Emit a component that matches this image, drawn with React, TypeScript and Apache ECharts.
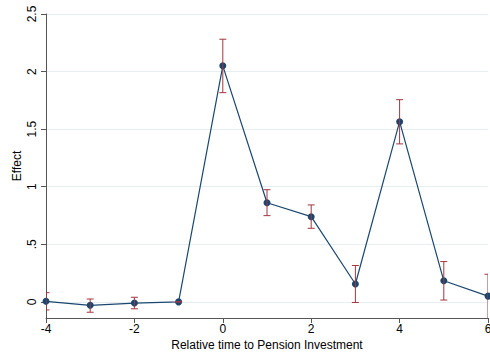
import React, { useEffect, useRef } from "react";
import * as echarts from "echarts";

// Event-study estimates by period relative to the pension investment
const periods = [-4, -3, -2, -1, 0, 1, 2, 3, 4, 5, 6];
const effect = [0.005, -0.03, -0.01, 0.0, 2.05, 0.861, 0.74, 0.155, 1.565, 0.183, 0.05];
const ciLower = [-0.07, -0.09, -0.06, -0.002, 1.817, 0.749, 0.639, -0.005, 1.372, 0.016, -0.16];
const ciUpper = [0.08, 0.025, 0.04, 0.002, 2.281, 0.974, 0.842, 0.316, 1.756, 0.35, 0.24];

const yTicks = [0, 0.5, 1, 1.5, 2, 2.5];
const yTickLabels = ["0", ".5", "1", "1.5", "2", "2.5"];

const NAVY = "#1a476f";
const MAROON = "#a3373f";
const FONT = "Liberation Sans";

export default function App() {
  const ref = useRef<HTMLDivElement>(null);

  useEffect(() => {
    if (!ref.current) return;
    const chart = echarts.init(ref.current, null, { renderer: "svg" });

    const pointData = periods.map((p, i) => [p, effect[i]]);
    const ciData = periods.map((p, i) => [p, ciLower[i], ciUpper[i]]);

    chart.setOption({
      animation: false,
      backgroundColor: "#ffffff",
      textStyle: { fontFamily: FONT },
      grid: { left: 46, right: 2, top: 14, bottom: 38, outerBoundsMode: "none", containLabel: false },
      xAxis: {
        type: "value",
        min: -4,
        max: 6,
        interval: 2,
        name: "Relative time to Pension Investment",
        nameLocation: "middle",
        nameGap: 21,
        nameMoveOverlap: false,
        nameTextStyle: { fontFamily: FONT, fontSize: 12, color: "#000" },
        axisLine: { onZero: false, lineStyle: { color: "#555", width: 1 } },
        axisTick: { show: true, length: 5, lineStyle: { color: "#555" } },
        axisLabel: { fontFamily: FONT, fontSize: 12, color: "#000", margin: 5, hideOverlap: false },
        splitLine: { show: false },
      },
      yAxis: {
        type: "value",
        min: -0.14,
        max: 2.5,
        name: "Effect",
        nameLocation: "middle",
        nameGap: 23,
        nameMoveOverlap: false,
        nameTextStyle: { fontFamily: FONT, fontSize: 12, color: "#000" },
        axisLine: { show: true, onZero: false, lineStyle: { color: "#555", width: 1 } },
        axisTick: {
          show: true,
          length: 5,
          lineStyle: { color: "#555" },
          customValues: yTicks,
        },
        axisLabel: {
          fontFamily: FONT,
          fontSize: 12,
          color: "#000",
          rotate: 90,
          margin: 8,
          customValues: yTicks,
          formatter: (v: number) => {
            const idx = yTicks.findIndex((t) => Math.abs(t - v) < 1e-6);
            return idx >= 0 ? yTickLabels[idx] : "";
          },
        },
        splitLine: { show: true, lineStyle: { color: "#e6eef0", width: 1 } },
      },
      series: [
        {
          type: "line",
          data: pointData,
          symbol: "circle",
          symbolSize: 7,
          lineStyle: { color: NAVY, width: 1.2 },
          itemStyle: { color: NAVY },
          z: 2,
        },
        {
          type: "custom",
          data: ciData,
          clip: true,
          z: 3,
          renderItem: (params: any, api: any) => {
            const x = api.value(0);
            const lo = api.coord([x, api.value(1)]);
            const hi = api.coord([x, api.value(2)]);
            const half = 3.5;
            const style = { stroke: MAROON, lineWidth: 1 };
            return {
              type: "group",
              children: [
                { type: "line", shape: { x1: lo[0], y1: lo[1], x2: hi[0], y2: hi[1] }, style },
                { type: "line", shape: { x1: hi[0] - half, y1: hi[1], x2: hi[0] + half, y2: hi[1] }, style },
                { type: "line", shape: { x1: lo[0] - half, y1: lo[1], x2: lo[0] + half, y2: lo[1] }, style },
              ],
            };
          },
        },
      ],
    });

    return () => chart.dispose();
  }, []);

  return (
    <div
      ref={ref}
      style={{ position: "fixed", left: 0, top: 0, width: 490, height: 356, background: "#fff" }}
    />
  );
}
